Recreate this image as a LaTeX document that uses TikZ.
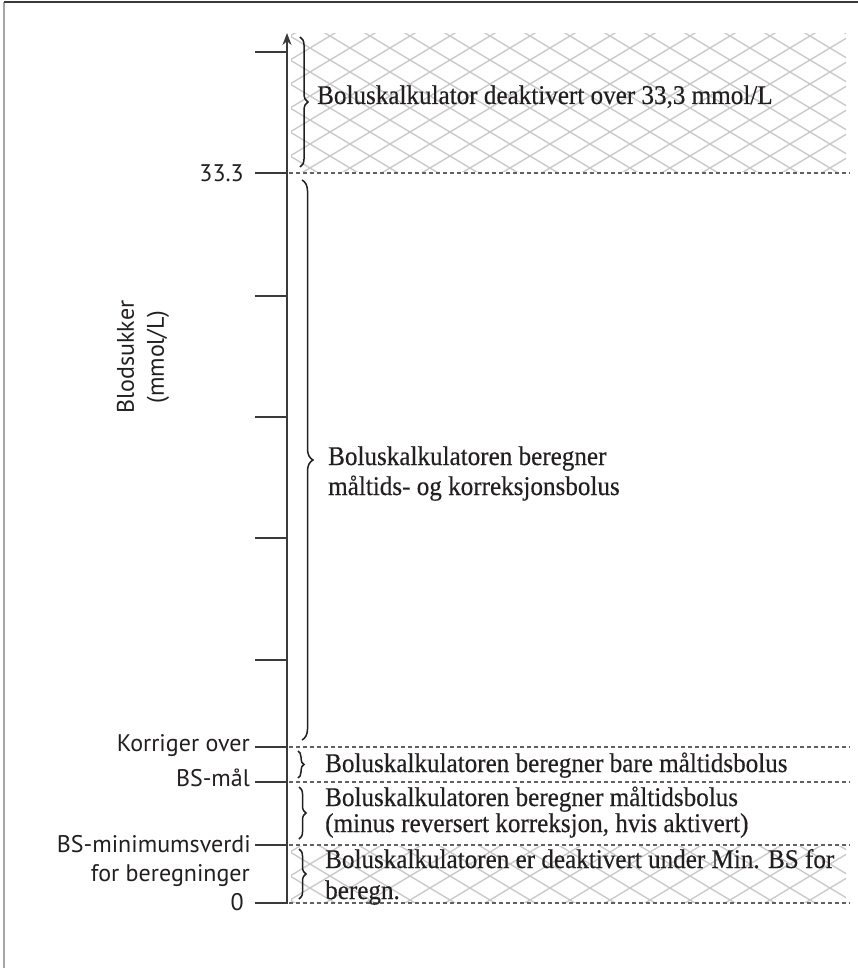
\documentclass[tikz,border=0pt]{standalone}
\usepackage{fontspec}
\setmainfont{Liberation Serif}[FakeStretch=0.93, FakeBold=0.4]
\newfontfamily\sansf{PT Sans}
\usetikzlibrary{decorations.pathreplacing,arrows.meta}
\definecolor{ink}{HTML}{231F20}
\definecolor{axc}{HTML}{3A3A3A}
\definecolor{hatchc}{HTML}{CACACA}
\tikzset{
  serif/.style={font=\fontsize{27}{22}\selectfont, text=ink, inner sep=0pt},
  sanslab/.style={font=\sansf\fontsize{24}{28}\selectfont, text=ink, inner sep=0pt},
  tickline/.style={draw=axc, line width=1.4pt},
  axisline/.style={draw=axc, line width=2pt},
  sepline/.style={draw=axc!80, line width=1.3pt, dash pattern=on 4pt off 3pt},
  hatchline/.style={draw=hatchc, line width=1.4pt},
  brc/.style={draw=ink, line width=1.5pt, decorate, decoration={brace, amplitude=#1}},
}
\begin{document}
\begin{tikzpicture}[x=1pt, y=-1pt]
\useasboundingbox (0,0) rectangle (858,968);
% frame
\draw[draw=gray!70, line width=2pt] (4,2) -- (4,968);
\draw[draw=axc, line width=1.4pt] (4,2) -- (858,2);
% hatch regions
\begin{scope}
  \clip (291,34) rectangle (846,172);
  \foreach \c in {-360,-336,...,1300} {
    \draw[hatchline] (270,\c) -- (870,\c+360);
    \draw[hatchline] (270,\c) -- (870,\c-360);
  }
\end{scope}
\begin{scope}
  \clip (291,846) rectangle (846,902);
  \foreach \c in {-360,-336,...,1300} {
    \draw[hatchline] (270,\c) -- (870,\c+360);
    \draw[hatchline] (270,\c) -- (870,\c-360);
  }
\end{scope}
% ticks
\foreach \y/\n in {52/ta,173/tb,296/tc,417/td,538/te,660/tf,747/tg,782/th,845/ti,903/tj} {
  \coordinate (\n0) at (255,\y);
  \coordinate (\n1) at (287,\y);
  \draw[tickline] (\n0) -- (\n1);
}
% dashed separators
\foreach \y/\n in {173/sa,747/sb,782/sc,845/sd,903/se} {
  \coordinate (\n0) at (289,\y);
  \coordinate (\n1) at (850,\y);
  \draw[sepline] (\n0) -- (\n1);
}
% axis
\coordinate (axbot) at (287,904);
\coordinate (axtop) at (287,33);
\draw[axisline, -{Stealth[length=12pt,width=9pt]}] (axbot) -- (axtop);
% braces
\coordinate (b1s) at (300,37);  \coordinate (b1e) at (300,167);
\coordinate (b2s) at (302,180); \coordinate (b2e) at (302,740);
\coordinate (b3s) at (298,751); \coordinate (b3e) at (298,778);
\coordinate (b4s) at (299,787); \coordinate (b4e) at (299,839);
\coordinate (b5s) at (299,849); \coordinate (b5e) at (299,899);
\draw[brc=8pt] (b1s) -- (b1e);
\draw[brc=11pt] (b2s) -- (b2e);
\draw[brc=6pt] (b3s) -- (b3e);
\draw[brc=7pt] (b4s) -- (b4e);
\draw[brc=7pt] (b5s) -- (b5e);
% texts right of axis
\node[serif, anchor=base west] (x1) at (317,104) {Boluskalkulator deaktivert over 33,3 mmol/L};
\node[serif, anchor=base west] (x2a) at (328,465) {Boluskalkulatoren beregner};
\node[serif, anchor=base west] (x2b) at (328,495) {måltids- og korreksjonsbolus};
\node[serif, anchor=base west] (x3) at (325,772) {Boluskalkulatoren beregner bare måltidsbolus};
\node[serif, anchor=base west] (x4a) at (325,806) {Boluskalkulatoren beregner måltidsbolus};
\node[serif, anchor=base west] (x4b) at (325,832) {(minus reversert korreksjon, hvis aktivert)};
\node[serif, anchor=base west] (x5a) at (325,868) {Boluskalkulatoren er deaktivert under Min. BS for};
\node[serif, anchor=base west] (x5b) at (325,899) {beregn.};
% labels left of axis
\node[sanslab, anchor=east] (l1) at (244,173) {33.3};
\node[sanslab, anchor=east] (l2) at (250,746) {Korriger over};
\node[sanslab, anchor=east] (l3) at (250,778) {BS-mål};
\node[sanslab, anchor=east] (l4) at (251,844) {BS-minimumsverdi};
\node[sanslab, anchor=base east] (l5) at (250,881) {for beregninger};
\node[sanslab, anchor=east] (l6) at (244,902) {0};
\node[sanslab, rotate=90, align=center, font=\sansf\fontsize{24}{30}\selectfont] (ylab) at (143,357) {Blodsukker\\(mmol/L)};
\end{tikzpicture}
\end{document}
